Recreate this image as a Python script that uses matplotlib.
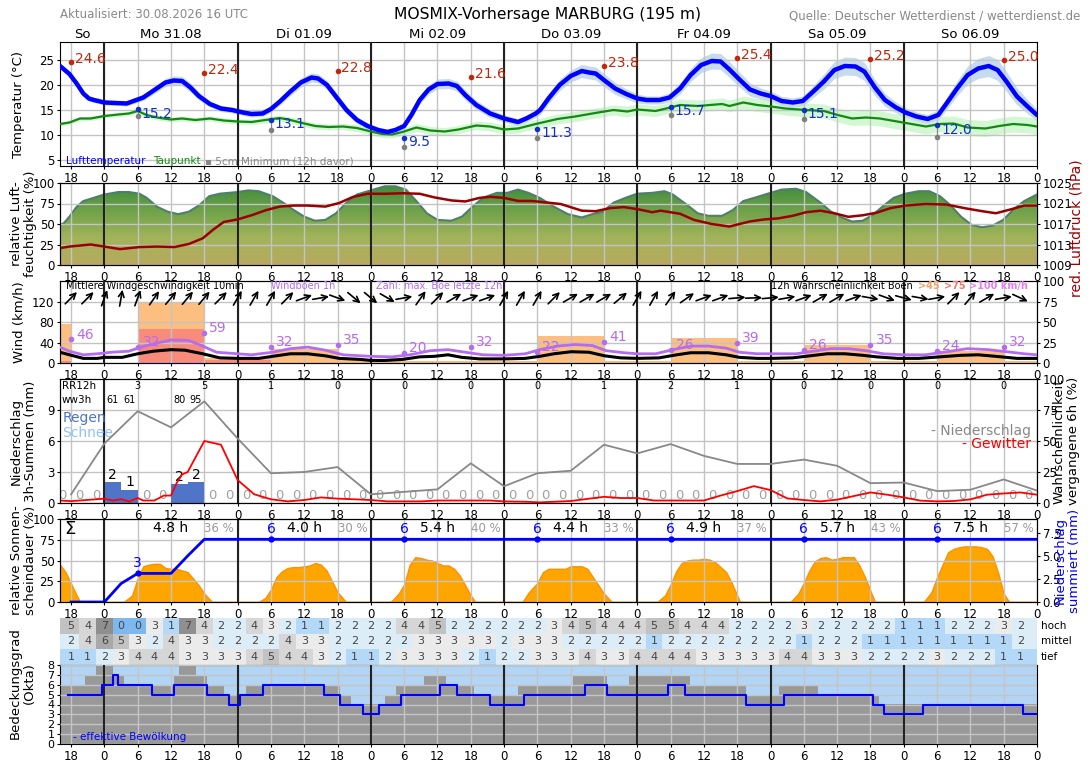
import numpy as np
import matplotlib
matplotlib.use("Agg")
import matplotlib.pyplot as plt
from matplotlib.colors import LinearSegmentedColormap
from matplotlib.transforms import offset_copy

# hours relative to Mon 31.08 00 UTC
X0, X1 = -8, 168

day_pos = [-4, 12, 36, 60, 84, 108, 132, 156]
day_lbl = ["So", "Mo 31.08", "Di 01.09", "Mi 02.09", "Do 03.09", "Fr 04.09", "Sa 05.09", "So 06.09"]

# ---------------- temperature ----------------
temp_h = [-8, -6.3, -5, -3.8, -2.8, -1.9, 0, 2, 4, 5,
          7, 9, 11, 12.5, 14, 15.5, 17, 19, 21, 23,
          25, 26.5, 28.5, 30, 31.6, 33.5, 35.4, 37.3, 38.5, 40.1,
          41.7, 43.6, 45.5, 47.4, 49.3, 51, 52.4, 54, 55.3, 56.8,
          58.4, 60, 62, 63.5, 65, 67, 69.5, 72, 74.5, 76,
          77.7, 78.5, 80, 82, 84, 86, 87.3, 88.5, 90.1, 92,
          94, 96, 97.7, 100, 101.8, 103.7, 105.6, 107.5, 109.4, 111,
          112.6, 114.4, 116.3, 118.2, 120, 122, 124, 125.8, 127.7, 129.6,
          131.5, 133.4, 135.3, 136.9, 138.8, 140.6, 142.6, 144.3, 146.3, 148.3,
          150.2, 151.7, 153.6, 155.5, 157.4, 159.3, 160.9, 162.5, 164.4, 166.3,
          168]
temp_v = [23.8, 22.2, 20.3, 18.3, 17.3, 17.0, 16.5, 16.4, 16.3, 16.7,
          17.5, 19.0, 20.5, 20.9, 20.8, 19.5, 17.8, 16.2, 15.3, 15.0,
          14.5, 14.2, 14.3, 15.2, 16.7, 18.7, 20.5, 21.5, 21.3, 20.0,
          17.7, 15.0, 13.0, 11.8, 11.0, 10.6, 11.0, 11.8, 14.0, 17.0,
          19.1, 20.2, 20.3, 19.8, 18.0, 16.0, 14.3, 13.3, 12.6, 13.3,
          14.3, 15.0, 17.3, 20.0, 21.8, 22.8, 22.5, 22.3, 20.9, 19.3,
          18.2, 17.3, 17.0, 17.0, 17.5, 19.3, 22.0, 24.0, 24.8, 24.7,
          23.1, 21.1, 19.1, 18.3, 17.8, 16.8, 16.5, 16.8, 18.7, 20.7,
          23.0, 23.8, 23.7, 22.7, 19.5, 17.0, 15.5, 14.5, 13.7, 13.2,
          14.0, 16.3, 19.3, 22.0, 23.3, 23.8, 23.0, 20.7, 17.7, 15.7,
          14.0]
temp_sp = [0.5, 0.5, 0.5, 0.5, 0.5, 0.5, 0.5, 0.5, 0.5, 0.5,
           0.6, 0.7, 0.8, 0.9, 0.9, 0.9, 0.8, 0.6, 0.6, 0.6,
           0.6, 0.6, 0.6, 0.6, 0.7, 0.8, 0.9, 0.9, 0.9, 0.9,
           0.9, 0.8, 0.7, 0.6, 0.6, 0.6, 0.6, 0.6, 0.7, 0.8,
           0.9, 1.0, 1.0, 1.0, 1.0, 0.9, 0.8, 0.7, 0.7, 0.7,
           0.8, 0.9, 1.0, 1.1, 1.2, 1.3, 1.3, 1.3, 1.3, 1.2,
           1.0, 0.9, 0.8, 0.8, 0.9, 1.1, 1.3, 1.5, 1.6, 1.6,
           1.6, 1.5, 1.3, 1.1, 1.0, 0.9, 0.9, 1.0, 1.2, 1.5,
           1.7, 1.8, 1.8, 1.8, 1.6, 1.3, 1.1, 1.0, 0.9, 0.9,
           1.0, 1.2, 1.5, 1.8, 2.0, 2.1, 2.1, 2.0, 1.7, 1.4,
           1.2]

dew_h = [-8, -6.3, -4.4, -2.5, 0, 2.5, 4.4, 6, 7.6, 9.5,
         12, 14, 16.4, 19, 21.5, 24, 26.5, 29, 31.6, 33.5,
         36, 38, 40.4, 43, 45.5, 48, 50, 51.8, 53.7, 56.2,
         58.7, 61.3, 63.8, 67, 69.5, 72, 74.5, 77.7, 81.6, 84.8,
         87.9, 91.7, 94.2, 96, 99.3, 101.2, 103.7, 106.9, 111.3, 112.6,
         115.1, 117.6, 120.1, 122.7, 126.4, 129.6, 132.1, 134.7, 137.2, 139.7,
         142.3, 145.4, 148, 150.5, 153, 155.5, 158.7, 161.2, 163.7, 166.3,
         168]
dew_v = [12.2, 12.5, 13.3, 13.3, 13.8, 14.1, 14.3, 14.8, 14.0, 13.5,
         13.1, 13.3, 13.0, 13.3, 12.9, 12.7, 12.6, 13.0, 13.4, 13.0,
         12.3, 11.8, 11.6, 11.7, 11.4, 10.7, 10.2, 10.1, 10.6, 11.5,
         10.9, 10.7, 11.1, 11.9, 11.7, 11.1, 11.3, 12.2, 13.2, 13.7,
         14.3, 15.0, 14.7, 15.1, 14.8, 15.3, 16.0, 15.8, 16.2, 15.8,
         16.5, 16.0, 15.7, 15.3, 15.0, 14.8, 14.0, 13.3, 13.5, 13.3,
         12.8, 12.2, 11.7, 12.2, 12.3, 11.5, 11.3, 11.8, 12.2, 12.0,
         11.7]
dew_sp = [0.4, 0.4, 0.4, 0.4, 0.4, 0.4, 0.4, 0.4, 0.5, 0.5,
          0.5, 0.5, 0.5, 0.5, 0.5, 0.5, 0.5, 0.6, 0.6, 0.6,
          0.6, 0.6, 0.6, 0.6, 0.7, 0.7, 0.7, 0.7, 0.7, 0.8,
          0.8, 0.8, 0.8, 0.8, 0.9, 0.9, 0.9, 0.9, 1.0, 1.0,
          1.0, 1.0, 1.1, 1.1, 1.1, 1.1, 1.2, 1.2, 1.2, 1.2,
          1.3, 1.3, 1.3, 1.3, 1.4, 1.4, 1.4, 1.4, 1.5, 1.5,
          1.5, 1.5, 1.5, 1.5, 1.5, 1.6, 1.6, 1.6, 1.6, 1.6,
          1.6]

tmax_h = [-6, 18, 42, 66, 90, 114, 138, 162]
tmax_v = [24.6, 22.4, 22.8, 21.6, 23.8, 25.4, 25.2, 25.0]
tmin_h = [6, 30, 54, 78, 102, 126, 150]
tmin_v = [15.2, 13.1, 9.5, 11.3, 15.7, 15.1, 12.0]
tgnd_v = [13.8, 11.0, 7.6, 9.4, 14.0, 13.2, 9.6]

# ---------------- humidity / pressure ----------------
rh_h = [-8, -7.3, -6.3, -5, -3.8, -1.9, 0, 2.5, 4.4, 6.3,
        7.6, 9.5, 11.4, 13.3, 15.2, 17.1, 18.9, 20.8, 24, 25.9,
        27.8, 30.3, 32.2, 34.1, 36, 37.9, 39.8, 41.7, 43.6, 45.5,
        48, 50.5, 52.4, 54.3, 56.2, 58.1, 60, 62.5, 64.4, 66.3,
        68.2, 70.7, 72.6, 74.5, 76.4, 78.4, 81, 83.5, 86, 87.9,
        89.8, 91.7, 93.9, 96, 98.7, 100.9, 102.4, 105, 106.9, 108.8,
        111.3, 113.2, 115.1, 117.6, 120, 122, 124.6, 126.4, 129, 130.9,
        132.8, 134.7, 136.6, 138.4, 140.3, 142.2, 144.3, 146.7, 148.6, 150.5,
        152.4, 154.3, 156.2, 158.1, 160, 161.9, 163.8, 165.7, 168]
rh_v = [49, 51, 59, 71, 78, 82, 86, 89, 89, 87,
        82, 71, 65, 62, 65, 73, 84, 87, 89, 91,
        90, 84, 76, 67, 59, 54, 55, 63, 76, 86,
        91, 96, 96, 92, 78, 63, 55, 54, 59, 71,
        82, 88, 88, 92, 88, 82, 71, 62, 58, 62,
        65, 76, 82, 87, 88, 90, 86, 73, 63, 60,
        60, 67, 78, 83, 88, 92, 93, 89, 76, 65,
        58, 53, 54, 61, 72, 82, 87, 90, 90, 84,
        73, 59, 49, 46, 48, 55, 68, 78, 86]

p_h = [-8, -6.3, -2.5, 0, 2.8, 6.3, 9.5, 12.6, 15.2, 17.7,
       19.6, 21.5, 24, 26.5, 29.1, 31.6, 34.1, 36.6, 39.8, 42.3,
       44.8, 47.4, 50.5, 53.7, 56.8, 59.4, 62.5, 65, 67.6, 69.5,
       72, 74.5, 77, 79.6, 82.2, 86, 88.5, 91.1, 93.6, 96,
       98.7, 100.2, 103.7, 106.2, 109.4, 112.6, 114.4, 116.3, 118.9, 121.4,
       124, 126.4, 129, 131.5, 134, 136.6, 139.1, 141.6, 144.3, 147.9,
       151.7, 154.9, 158.1, 160.6, 163.1, 165.7, 168]
p_v = [1012.3, 1012.6, 1013.0, 1012.6, 1012.1, 1012.5, 1012.6, 1012.5, 1013.1, 1014.2,
       1015.9, 1017.4, 1017.9, 1018.7, 1019.7, 1020.4, 1020.6, 1020.6, 1020.4, 1021.1,
       1022.3, 1022.9, 1022.9, 1023.0, 1022.9, 1022.2, 1021.6, 1021.4, 1022.1, 1022.3,
       1022.1, 1021.5, 1021.5, 1021.2, 1020.9, 1019.6, 1019.5, 1020.1, 1020.3, 1019.9,
       1019.3, 1019.6, 1019.0, 1017.8, 1017.0, 1016.5, 1017.0, 1017.5, 1017.9, 1018.1,
       1018.6, 1019.3, 1019.6, 1019.1, 1018.4, 1018.7, 1019.2, 1020.1, 1020.6, 1020.9,
       1020.8, 1020.1, 1019.5, 1019.1, 1019.8, 1020.6, 1020.6]

# ---------------- wind ----------------
wind_h = [-8, -6.3, -3.8, -1.3, 0, 3.2, 6, 8.8, 12, 14.5,
          17.7, 20.8, 24, 27.8, 30.3, 33.5, 36.6, 39.8, 42.3, 46.1,
          48, 50.5, 53.7, 56.8, 59.4, 61.9, 64.4, 67.6, 72, 75.8,
          78.4, 81, 84.1, 87.3, 90.1, 93, 96, 99.9, 103.1, 105.6,
          108.8, 112, 114.4, 117.6, 120.1, 123.9, 127.1, 130.2, 133.4, 136.6,
          139.1, 142.9, 146.7, 150.5, 154.3, 157.4, 160.6, 164.4, 168]
wind_v = [21, 16, 9, 9, 11, 11, 18, 23, 26, 25,
          18, 10, 9, 9, 13, 18, 18, 14, 9, 7,
          5, 5, 7, 12, 13, 16, 11, 8, 8, 9,
          13, 18, 22, 21, 14, 10, 9, 10, 16, 20,
          20, 16, 11, 9, 9, 10, 14, 18, 18, 15,
          12, 9, 9, 12, 15, 16, 13, 9, 9]
gust_h = [-8, -6.3, -3.8, -1.3, 1.3, 4.4, 6.3, 9.5, 12, 15.2,
          17.7, 20.2, 24, 26.5, 30.3, 33.5, 36.6, 39.8, 43, 48,
          51.8, 55, 58.7, 61.9, 65, 68.2, 72, 75.8, 78.4, 81.6,
          84.8, 87.9, 90.4, 93.6, 96, 99.3, 102.4, 105.6, 108.8, 112,
          114.4, 117.6, 121.4, 124.6, 127.7, 130.9, 134, 137.2, 140.3, 144.1,
          147.9, 151.1, 155.5, 159.3, 162.5, 165.7, 168]
gust_v = [31, 23, 16, 18, 21, 23, 30, 39, 45, 44,
          33, 21, 18, 16, 21, 28, 31, 25, 16, 13,
          12, 16, 24, 26, 21, 16, 15, 18, 26, 33,
          36, 34, 24, 20, 18, 18, 26, 33, 33, 29,
          21, 18, 18, 18, 23, 28, 28, 24, 18, 16,
          16, 21, 28, 26, 22, 18, 16]
gmax_h = [-6, 6, 18, 30, 42, 54, 66, 78, 90, 102, 114, 126, 138, 150, 162]
gmax_v = [46, 32, 59, 32, 35, 20, 32, 22, 41, 26, 39, 26, 35, 24, 32]

arrow_h = list(range(-6, 166, 3))
wind_to = [45, 45, 20, 10, 20, 35, 40, 40, 40, 45,
           30, 30, 30, 45, 70, 80, 110, 130, 130, 120,
           80, 35, 45, 60, 70, 70, 30, 30, 30, 45,
           60, 60, 60, 50, 30, 30, 35, 55, 70, 70,
           85, 88, 85, 80, 70, 60, 60, 70, 100, 110,
           105, 100, 80, 45, 40, 60, 80, 115]

prob_start = [-18, -6, 6, 18, 30, 42, 54, 66, 78, 90, 102, 114, 126, 138, 150, 162]
p45 = [48, 0, 73, 6, 17, 4, 3, 2, 33, 3, 30, 3, 22, 3, 15, 3]
p75 = [2, 0, 42, 4, 0, 0, 0, 0, 0, 0, 0, 0, 0, 0, 0, 0]
p100 = [0, 0, 1, 0, 0, 0, 0, 0, 0, 0, 0, 0, 0, 0, 0, 0]

# ---------------- precipitation ----------------
rr_h = list(np.arange(-7.5, 167, 3))
rr_v = [0, 0, 0, 2.0, 1.3, 0, 0, 1.8, 2.0, 0,
        0, 0, 0, 0, 0, 0, 0, 0, 0, 0,
        0, 0, 0, 0, 0, 0, 0, 0, 0, 0,
        0, 0, 0, 0, 0, 0, 0, 0, 0, 0,
        0, 0, 0, 0, 0, 0, 0, 0, 0, 0,
        0, 0, 0, 0, 0, 0, 0, 0, 0]
rr12_h = [6, 18, 30, 42, 54, 66, 78, 90, 102, 114, 126, 138, 150, 162]
rr12_v = [3, 5, 1, 0, 0, 0, 0, 1, 2, 1, 0, 0, 0, 0]
ww_h = [1.5, 4.5, 13.5, 16.5]
ww_v = [61, 61, 80, 95]

pop_h = list(range(-6, 169, 6))
pop_v = [7, 48, 74, 61, 82, 52, 24, 25, 29, 7,
         9, 11, 32, 13.5, 24, 26, 47, 40, 47.5, 38,
         31.5, 31.5, 35, 30, 16, 16.5, 9.6, 10.7, 19, 10]
thu_h = [-8, -6, -3, 0, 1.5, 3, 4.5, 6, 7, 9,
         10.7, 12, 13, 14, 15, 18, 21, 24, 27, 30,
         33, 36, 39, 42, 45, 48, 51, 54, 57, 60,
         63, 66, 69.5, 72, 76, 78.4, 84, 90, 93, 96,
         99, 102, 108, 111, 114, 117, 120, 123, 126, 129,
         132, 135, 138, 141, 144, 147, 150, 153, 156, 159,
         162, 165, 168]
thu_v = [2, 1.5, 2.5, 3.5, 2, 3, 1.3, 4, 2, 2,
         6, 6, 16, 23, 25, 50, 47, 18.5, 7, 3,
         1.3, 2.4, 4.5, 3.5, 3, 2.4, 1.3, 1.3, 1.3, 2,
         2, 2, 2, 1.3, 1, 0.5, 1.6, 5, 4, 4,
         2, 2, 2, 6, 9.6, 13.6, 10.4, 3.7, 2.4, 1.3,
         2.7, 5.6, 8.5, 6.7, 4.5, 1.9, 1.3, 1.6, 2.9, 6.7,
         7.7, 8.5, 6.7]

# ---------------- sunshine ----------------
sun_h = [-8, -7, -6, -5, -4.4, 3.5, 5, 6, 7, 8, 9, 10, 11, 12, 13, 14, 15, 16, 17, 18, 19.4,
         27.8, 29, 30, 31, 32, 33, 34, 35, 36, 37, 38, 39, 40, 41, 42, 43.5,
         51.6, 53, 54, 55, 56, 57, 58, 59, 60, 61, 62, 63, 64, 65, 66, 66.8,
         75.3, 76.5, 78, 79, 80, 81, 82, 83, 84, 85, 86, 87, 88, 89, 90, 91.4,
         99.6, 101, 102, 103, 104, 105, 106, 107, 108, 109, 110, 111, 112, 113, 114.5,
         123.6, 125, 126, 127, 128, 129, 130, 131, 132, 133, 134, 135, 136, 137, 138.8,
         147.6, 149, 150, 151, 152, 153, 154, 155, 156, 157, 158, 159, 160, 161, 162, 163, 168]
sun_v = [45, 36, 22, 8, 0, 0, 8, 29, 43, 45, 46, 46, 41, 40, 40, 38, 36, 28, 20, 10, 0,
         0, 5, 15, 30, 37, 41, 42, 42, 43, 44, 47, 45, 38, 25, 12, 0,
         0, 10, 21, 45, 54, 53, 51, 50, 47, 44, 44, 40, 32, 20, 8, 0,
         0, 12, 23, 36, 40, 40, 40, 40, 43, 43, 43, 40, 30, 20, 10, 0,
         0, 8, 21, 37, 47, 50, 51, 51, 52, 51, 48, 42, 36, 23, 0,
         0, 10, 23, 38, 49, 53, 54, 51, 52, 54, 54, 54, 44, 30, 0,
         0, 12, 30, 45, 60, 64, 66, 67, 67, 67, 66, 64, 55, 35, 10, 0, 0]
sun_day_h = [12, 36, 60, 84, 108, 132, 156]
sun_sum = ["4.8 h", "4.0 h", "5.4 h", "4.4 h", "4.9 h", "5.7 h", "7.5 h"]
sun_pct = ["36 %", "30 %", "40 %", "33 %", "37 %", "43 %", "57 %"]

cum_h = [-6, 0, 3, 6, 12, 15, 18, 168]
cum_v = [0, 0, 2.0, 3.1, 3.1, 5.0, 6.8, 6.8]
cum_mark_h = [6, 30, 54, 78, 102, 126, 150]
cum_mark_v = [3.1, 6.8, 6.8, 6.8, 6.8, 6.8, 6.8]
cum_mark_lbl = ["3", "6", "6", "6", "6", "6", "6"]

# ---------------- clouds ----------------
cl_h = list(range(-6, 166, 3))
cl_high = [5, 4, 7, 0, 0, 3, 1, 7, 4, 2, 2, 4, 3, 2, 1, 1, 2, 2, 2, 2,
           4, 4, 5, 2, 2, 2, 2, 2, 2, 3, 4, 5, 4, 4, 4, 5, 5, 4, 4, 4,
           2, 2, 2, 2, 3, 2, 2, 2, 2, 2, 1, 1, 1, 2, 2, 2, 3, 2]
cl_mid = [2, 4, 6, 5, 3, 2, 4, 3, 3, 2, 2, 2, 2, 4, 3, 3, 2, 2, 2, 2,
          2, 3, 3, 3, 3, 3, 2, 3, 3, 3, 2, 2, 2, 2, 2, 1, 2, 2, 2, 2,
          2, 2, 2, 2, 1, 2, 2, 2, 1, 1, 1, 1, 1, 1, 1, 1, 1, 2]
cl_low = [1, 1, 2, 3, 4, 4, 4, 3, 3, 3, 3, 4, 5, 4, 4, 3, 2, 1, 1, 2,
          3, 3, 3, 3, 2, 1, 2, 2, 3, 3, 3, 4, 3, 3, 4, 4, 4, 4, 3, 3,
          3, 3, 3, 4, 4, 3, 3, 3, 2, 2, 2, 2, 3, 2, 2, 2, 1, 1]

tot_t = [-8, -3.5, -1.5, 1.5, 3.5, 12.5, 13.5, 16.5, 18.5, 21.5, 25.5, 42.5, 44.5, 50.5,
         52.5, 57.5, 61.5, 66.5, 74.5, 84.5, 90.5, 94.5, 105.5, 115.5, 121.5, 128.5, 139.5, 168]
tot_v = [6, 7, 8, 7, 6, 7, 8, 7, 6, 5, 6, 5, 4, 5,
         6, 7, 6, 5, 6, 7, 6, 7, 6, 5, 6, 5, 4, 4]
eff_t = [-6.5, -0.5, 1.5, 2.5, 8.5, 12.5, 18.5, 22.5, 24.5, 28.5, 39.5, 42.5, 46.5, 49.5,
         53.5, 60.5, 63.5, 69.5, 75.5, 86.5, 90.5, 101.5, 104.5, 115.5, 122.5, 138.5, 140.5,
         147.5, 165.5, 168]
eff_v = [5, 6, 7, 6, 5, 6, 5, 4, 5, 6, 5, 4, 3, 4,
         5, 6, 5, 4, 5, 6, 5, 6, 5, 4, 5, 4, 3,
         4, 3, 3]

okta_col = {0: "#7db9ee", 1: "#b4d8f8", 2: "#dcedf8", 3: "#ebebeb", 4: "#d6d6d6",
            5: "#c2c2c2", 6: "#a9a9a9", 7: "#8f8f8f", 8: "#777777"}

# ─────────────────────────────────────────────────────────────────────────────
W, H = 1088, 763
fig = plt.figure(figsize=(W / 100, H / 100), dpi=100)
FS = 8.5
GRID = "#c4c4c4"


def box(top, bottom, left=60, right=1037):
    return [left / W, 1 - bottom / H, (right - left) / W, (bottom - top) / H]


def time_axis(ax):
    ax.set_xlim(X0, X1)
    ticks = list(range(-6, 169, 6))
    ax.set_xticks(ticks)
    ax.set_xticklabels([str(t % 24) for t in ticks])
    ax.grid(True, color=GRID, lw=1)
    for d in range(0, 168, 24):
        ax.axvline(d, color="#222222", lw=1.5, zorder=2.6)
    ax.tick_params(labelsize=FS, length=2, pad=2)


def ylab(ax, text, right_px, color="black"):
    # right_px: pixel x of the right edge of the rotated label
    ax.set_ylabel(text, fontsize=9.5, color=color, linespacing=1.1)
    ax.yaxis.set_label_coords((right_px - 60) / 977, 0.5)


def rlab(ax, text, left_px, color="black", y=0.5, fs=9.5):
    ax.set_ylabel(text, fontsize=fs, color=color, linespacing=1.1)
    ax.yaxis.set_label_coords((left_px - 60) / 977, y)


# header
fig.text(60 / W, 1 - 15 / H, "Aktualisiert: 30.08.2026 16 UTC", fontsize=FS, color="#888888", va="center")
fig.text(548 / W, 1 - 14 / H, "MOSMIX-Vorhersage MARBURG (195 m)", fontsize=11.2, ha="center", va="center")
fig.text(1080 / W, 1 - 16 / H, "Quelle: Deutscher Wetterdienst / wetterdienst.de", fontsize=FS,
         color="#888888", ha="right", va="center")

# ---------------- temperature panel ----------------
ax_t = fig.add_axes(box(42, 166))
time_axis(ax_t)
dlo = [v - s for v, s in zip(dew_v, dew_sp)]
dhi = [v + s for v, s in zip(dew_v, dew_sp)]
ax_t.fill_between(dew_h, dlo, dhi, color="#d2f7d2", lw=0, zorder=1)
ax_t.plot(dew_h, dew_v, color="#128a12", lw=1.6, zorder=3)
tlo = [v - s for v, s in zip(temp_v, temp_sp)]
thi = [v + s for v, s in zip(temp_v, temp_sp)]
ax_t.fill_between(temp_h, tlo, thi, color="#c6dbef", lw=0, zorder=1.2)
ax_t.plot(temp_h, temp_v, color="#0000ff", lw=3.2, zorder=3.2, solid_capstyle="round")
ax_t.plot(tmax_h, tmax_v, "o", color="#c0280c", ms=3, zorder=4)
for h, v in zip(tmax_h, tmax_v):
    ax_t.text(h + 0.7, v + 0.6, f"{v:.1f}", color="#c0280c", fontsize=10, va="center")
for h, v, g in zip(tmin_h, tmin_v, tgnd_v):
    ax_t.plot([h, h], [g, v], color="#888888", lw=0.8, zorder=3.5)
    ax_t.plot(h, g, "o", color="#808080", ms=3, zorder=4)
    ax_t.plot(h, v, "o", color="#1030c8", ms=3, zorder=4)
    ax_t.text(h + 0.7, v - 0.9, f"{v:.1f}", color="#1030c8", fontsize=10, va="center")
ax_t.text(-7.0, 4.8, "Lufttemperatur", color="#0000ff", fontsize=7.5, va="center")
ax_t.text(8.8, 4.8, "Taupunkt", color="#128a12", fontsize=7.5, va="center")
ax_t.text(18.2, 4.8, "▪ 5cm Minimum (12h davor)", color="#888888", fontsize=7.5, va="center")
ax_t.set_ylim(3.8, 28.6)
ax_t.set_yticks([5, 10, 15, 20, 25])
ylab(ax_t, "Temperatur (°C)", 25)
for p, l in zip(day_pos, day_lbl):
    ax_t.text(p, 1.01, l, transform=ax_t.get_xaxis_transform(), ha="center", va="bottom", fontsize=9.5)

# ---------------- humidity / pressure panel ----------------
ax_h = fig.add_axes(box(183, 265))
cmap_rh = LinearSegmentedColormap.from_list("rh", ["#b9a95f", "#a2b45a", "#6ea24a", "#3c8a3a"])
grad = np.linspace(0, 1, 256).reshape(-1, 1)
im = ax_h.imshow(grad, extent=[X0, X1, 0, 100], origin="lower", aspect="auto", cmap=cmap_rh, zorder=1)
poly = ax_h.fill_between(rh_h, 0, rh_v, facecolor="none", edgecolor="none")
im.set_clip_path(poly.get_paths()[0], transform=ax_h.transData)
ax_h.plot(rh_h, rh_v, color="#4f7f6c", lw=1.5, zorder=2)
time_axis(ax_h)
ax_h.set_axisbelow(False)
ax_h.set_ylim(0, 100)
ax_h.set_yticks([0, 25, 50, 75, 100])
ylab(ax_h, "relative Luft-\nfeuchtigkeit (%)", 37)
ax_hp = ax_h.twinx()
ax_hp.plot(p_h, p_v, color="#9b0000", lw=1.8)
ax_hp.set_ylim(1009, 1025)
ax_hp.set_yticks([1009, 1013, 1017, 1021, 1025])
ax_hp.tick_params(labelsize=FS, length=2, pad=2)
rlab(ax_hp, "red. Luftdruck (hPa)", 1069, color="#9b0000", y=0.45, fs=10)

# ---------------- wind panel ----------------
ax_w = fig.add_axes(box(281, 363))
ax_wr = ax_w.twinx()
ax_w.set_zorder(ax_wr.get_zorder() + 1)
ax_w.patch.set_visible(False)
ax_wr.bar(prob_start, p45, width=12, align="edge", color="#fdbf80", lw=0)
ax_wr.bar(prob_start, p75, width=12, align="edge", color="#f98b7a", lw=0)
ax_wr.bar(prob_start, p100, width=12, align="edge", color="#ee82ee", lw=0)
ax_wr.set_ylim(0, 100)
ax_wr.set_yticks([0, 25, 50, 75, 100])
ax_wr.tick_params(labelsize=FS, length=2, pad=2)
time_axis(ax_w)
ax_w.plot(gust_h, gust_v, color="#b46cf0", lw=2, zorder=3)
ax_w.plot(wind_h, wind_v, color="black", lw=2.2, zorder=3.2)
ax_w.plot(gmax_h, gmax_v, "o", color="#b46cf0", ms=3, zorder=4)
for h, v in zip(gmax_h, gmax_v):
    ax_w.text(h + 0.9, v + 9, str(v), color="#b46cf0", fontsize=10, va="center")
for h, d in zip(arrow_h, wind_to):
    a = np.deg2rad(d)
    dx, dy = 6.0 * np.sin(a), 6.0 * np.cos(a)
    ax_w.annotate("", xy=(h, 127), xytext=(h, 127),
                  xycoords=offset_copy(ax_w.transData, fig=fig, x=dx, y=dy, units="points"),
                  textcoords=offset_copy(ax_w.transData, fig=fig, x=-dx, y=-dy, units="points"),
                  arrowprops=dict(arrowstyle="->", color="black", lw=1.2, shrinkA=0, shrinkB=0,
                                  mutation_scale=10))
WFS = 7.0
ax_w.text(-7, 151, "Mittlere Windgeschwindigkeit 10min", fontsize=WFS, va="center")
ax_w.text(30, 151, "Windböen 1h", fontsize=WFS, va="center", color="#b46cf0")
ax_w.text(49, 151, "Zahl: max. Böe letzte 12h", fontsize=WFS, va="center", color="#b46cf0")
ax_w.text(120, 151, "12h Wahrscheinlichkeit Böen", fontsize=WFS, va="center")
ax_w.text(146.5, 151, ">45", fontsize=WFS, va="center", color="#f0a060", fontweight="bold")
ax_w.text(151.3, 151, ">75", fontsize=WFS, va="center", color="#f07868", fontweight="bold")
ax_w.text(155.8, 151, ">100 km/h", fontsize=WFS, va="center", color="#e67ef0", fontweight="bold")
ax_w.set_ylim(0, 160)
ax_w.set_yticks([0, 40, 80, 120])
ylab(ax_w, "Wind (km/h)", 25)

# ---------------- precipitation panel ----------------
ax_p = fig.add_axes(box(379, 503))
time_axis(ax_p)
ax_p.bar(rr_h, rr_v, width=3, color="#4f74c8", zorder=2)
for h, v in zip(rr_h, rr_v):
    if v > 0:
        ax_p.text(h, v + 0.05, str(round(v)), ha="center", va="bottom", fontsize=10)
    else:
        ax_p.text(h, 0.1, "0", ha="center", va="bottom", fontsize=9.5, color="#a0a0a0")
ax_p.text(-7.7, 11.3, "RR12h", fontsize=7.5, va="center")
ax_p.text(-7.7, 10.0, "ww3h", fontsize=7.5, va="center")
for h, v in zip(rr12_h, rr12_v):
    ax_p.text(h, 11.3, str(v), fontsize=7, ha="center", va="center")
for h, v in zip(ww_h, ww_v):
    ax_p.text(h, 10.0, str(v), fontsize=7, ha="center", va="center")
ax_p.text(-7.6, 8.2, "Regen", color="#4f74c8", fontsize=10, va="center")
ax_p.text(-7.6, 6.8, "Schnee", color="#8ec3f5", fontsize=10, va="center")
ax_p.text(167, 7.0, "- Niederschlag", color="#888888", fontsize=10, ha="right", va="center")
ax_p.text(167, 5.7, "- Gewitter", color="#ff0000", fontsize=10, ha="right", va="center")
ax_p.set_ylim(0, 12)
ax_p.set_yticks([0, 3, 6, 9])
ylab(ax_p, "Niederschlag\n3h-Summen (mm)", 37)
ax_pr = ax_p.twinx()
ax_pr.plot(pop_h, pop_v, color="#888888", lw=1.3)
ax_pr.plot(thu_h, thu_v, color="#ff0000", lw=1.3)
ax_pr.set_ylim(0, 100)
ax_pr.set_yticks([0, 25, 50, 75, 100])
ax_pr.tick_params(labelsize=FS, length=2, pad=2)
rlab(ax_pr, "Wahrscheinlichkeit\nvergangene 6h (%)", 1053)

# ---------------- sunshine panel ----------------
ax_s = fig.add_axes(box(519, 602))
time_axis(ax_s)
ax_s.fill_between(sun_h, 0, sun_v, facecolor="#ffa500", edgecolor="#ff9000", lw=1, zorder=1)
ax_s.set_axisbelow(False)
ax_s.set_ylim(0, 100)
ax_s.set_yticks([0, 25, 50, 75, 100])
ax_s.text(-7.3, 88, "Σ", fontsize=13, va="center")
for h, s, p in zip(sun_day_h, sun_sum, sun_pct):
    ax_s.text(h, 89, s, fontsize=10, ha="center", va="center")
    ax_s.text(h + 8.7, 89, p, fontsize=8.5, ha="center", va="center", color="#999999")
ylab(ax_s, "relative Sonnen-\nscheindauer (%)", 37)
ax_sr = ax_s.twinx()
ax_sr.plot(cum_h, cum_v, color="#0000ff", lw=2)
ax_sr.plot(cum_mark_h, cum_mark_v, "o", color="#0000ff", ms=3.5)
for h, v, l in zip(cum_mark_h, cum_mark_v, cum_mark_lbl):
    ax_sr.text(h, v + 0.35, l, color="#0000ff", fontsize=10, ha="center", va="bottom")
ax_sr.set_ylim(0, 9)
ax_sr.set_yticks([0, 2.5, 5, 7.5])
ax_sr.set_yticklabels(["0.0", "2.5", "5.0", "7.5"])
ax_sr.tick_params(labelsize=FS, length=2, pad=2)
rlab(ax_sr, "Niederschlag\nsummiert (mm)", 1054, color="#0000ff")

# ---------------- cloud table ----------------
ax_tab = fig.add_axes(box(618, 665))
ax_tab.set_xlim(X0, X1)
ax_tab.set_ylim(0, 3)
cell_edges = [X0] + [h + 1.5 for h in cl_h[:-1]] + [X1]
cell_left = cell_edges[:-1]
cell_w = [b - a for a, b in zip(cell_edges[:-1], cell_edges[1:])]
for row, vals in zip([2, 1, 0], [cl_high, cl_mid, cl_low]):
    ax_tab.bar(cell_left, [1] * len(vals), bottom=row, width=cell_w, align="edge",
               color=[okta_col[v] for v in vals], lw=0)
    for h, v in zip(cl_h, vals):
        ax_tab.text(h, row + 0.5, str(v), ha="center", va="center", fontsize=8, color="#444444")
for row, name in zip([2.5, 1.5, 0.5], ["hoch", "mittel", "tief"]):
    ax_tab.text(1.004, row / 3, name, transform=ax_tab.transAxes, fontsize=7.5, va="center")
ax_tab.set_xticks([])
ax_tab.set_yticks([])
for sp in ax_tab.spines.values():
    sp.set_visible(False)

# ---------------- cloud cover panel ----------------
ax_c = fig.add_axes(box(665, 744))
ax_c.set_facecolor("#b3d5f5")
ax_c.fill_between(tot_t, 0, tot_v, step="post", color="#999999", lw=0, zorder=1)
ax_c.step(eff_t, eff_v, where="post", color="#0000ff", lw=1.5, zorder=3)
time_axis(ax_c)
ax_c.set_axisbelow(False)
ax_c.set_ylim(0, 8)
ax_c.set_yticks(range(9))
ax_c.tick_params(axis="y", labelsize=8)
ax_c.text(-5.6, 0.25, "- effektive Bewölkung", color="#0000ff", fontsize=7.5, va="bottom")
fig.text(22 / W, 1 - 683 / H, "Bedeckungsgrad\n(Okta)", rotation=90, fontsize=9.5,
         ha="center", va="center", linespacing=1.1)

plt.savefig("out.png", dpi=100)
